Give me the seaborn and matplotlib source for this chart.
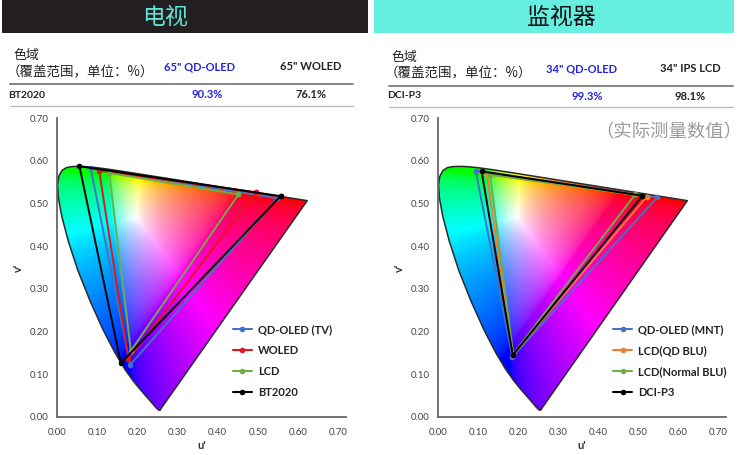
import matplotlib

matplotlib.use("Agg")
import matplotlib.pyplot as plt
import numpy as np
import pandas as pd
import seaborn as sns
from matplotlib.lines import Line2D
from matplotlib.patches import Polygon, Rectangle

# CIE 1931 2 deg spectral locus, chromaticity x / y, 380..700 nm
LOCUS_X = [0.1741, 0.1740, 0.1738, 0.1736, 0.1733, 0.1730, 0.1726, 0.1721, 0.1714,
           0.1703, 0.1689, 0.1669, 0.1644, 0.1611, 0.1566, 0.1510, 0.1440, 0.1355,
           0.1241, 0.1096, 0.0913, 0.0687, 0.0454, 0.0235, 0.0082, 0.0039, 0.0139,
           0.0389, 0.0743, 0.1142, 0.1547, 0.1929, 0.2296, 0.2658, 0.3016, 0.3373,
           0.3731, 0.4087, 0.4441, 0.4788, 0.5125, 0.5448, 0.5752, 0.6029, 0.6270,
           0.6482, 0.6658, 0.6801, 0.6915, 0.7006, 0.7079, 0.7140, 0.7190, 0.7230,
           0.7260, 0.7283, 0.7300, 0.7311, 0.7320, 0.7334, 0.7347]
LOCUS_Y = [0.0050, 0.0050, 0.0049, 0.0049, 0.0048, 0.0048, 0.0048, 0.0048, 0.0051,
           0.0058, 0.0069, 0.0086, 0.0109, 0.0138, 0.0177, 0.0227, 0.0297, 0.0399,
           0.0578, 0.0868, 0.1327, 0.2007, 0.2950, 0.4127, 0.5384, 0.6548, 0.7502,
           0.8120, 0.8338, 0.8262, 0.8059, 0.7816, 0.7543, 0.7243, 0.6923, 0.6589,
           0.6245, 0.5896, 0.5547, 0.5202, 0.4866, 0.4544, 0.4242, 0.3965, 0.3725,
           0.3514, 0.3340, 0.3197, 0.3083, 0.2993, 0.2920, 0.2859, 0.2809, 0.2770,
           0.2740, 0.2717, 0.2700, 0.2689, 0.2680, 0.2666, 0.2653]

# gamut primaries, u' / v' for R, G, B
TV_SERIES = ["QD-OLED (TV)", "WOLED", "LCD", "BT2020"]
TV_U = [[0.549, 0.084, 0.182], [0.496, 0.105, 0.178], [0.452, 0.130, 0.184], [0.557, 0.056, 0.159]]
TV_V = [[0.512, 0.582, 0.122], [0.526, 0.577, 0.135], [0.521, 0.571, 0.155], [0.517, 0.587, 0.126]]

MNT_SERIES = ["QD-OLED (MNT)", "LCD(QD BLU)", "LCD(Normal BLU)", "DCI-P3"]
MNT_U = [[0.548, 0.094, 0.186], [0.522, 0.122, 0.187], [0.493, 0.130, 0.188], [0.511, 0.109, 0.187]]
MNT_V = [[0.514, 0.577, 0.141], [0.516, 0.569, 0.145], [0.521, 0.567, 0.147], [0.518, 0.575, 0.145]]

# table texts
TV_COLS = ['65" QD-OLED', '65" WOLED']
TV_ROW = "BT2020"
TV_VALUES = ["90.3%", "76.1%"]
MNT_COLS = ['34" QD-OLED', '34" IPS LCD']
MNT_ROW = "DCI-P3"
MNT_VALUES = ["99.3%", "98.1%"]
SUBTITLE = "（覆盖范围，单位：%）"
NOTE = "（实际测量数值）"
TICKS = [0.0, 0.1, 0.2, 0.3, 0.4, 0.5, 0.6, 0.7]

TV_COLORS = ["#4472C4", "#E3161B", "#70AD47", "#000000"]
MNT_COLORS = ["#4472C4", "#ED7D31", "#70AD47", "#000000"]
BLUE_TEXT = "#2424E0"

W, H = 742, 455
CJK = ["Noto Sans CJK SC", "DejaVu Sans"]


def fx(px):
    return px / W


def fy(py):
    return 1 - py / H


def locus_uv():
    x = np.array(LOCUS_X)
    y = np.array(LOCUS_Y)
    d = -2 * x + 12 * y + 3
    return 4 * x / d, 9 * y / d


def gamut_image(n=500):
    uu, vv = np.meshgrid(np.linspace(0, 0.72, n), np.linspace(0, 0.72, n))
    d = 6 * uu - 16 * vv + 12
    x = 9 * uu / d
    y = np.maximum(4 * vv / d, 1e-4)
    xyz = np.stack([x / y, np.ones_like(x), (1 - x - y) / y], axis=-1)
    m = np.array([[3.2406, -1.5372, -0.4986],
                  [-0.9689, 1.8758, 0.0415],
                  [0.0557, -0.2040, 1.0570]])
    rgb = np.clip(xyz @ m.T, 0, None)
    rgb /= np.maximum(rgb.max(axis=-1, keepdims=True), 1e-9)
    rgb = np.where(rgb <= 0.0031308, 12.92 * rgb, 1.055 * rgb ** (1 / 2.4) - 0.055)
    return np.clip(rgb, 0, 1)


def draw_diagram(ax, series, us, vs, colors, legend_x):
    lu, lv = locus_uv()
    img = gamut_image()
    im = ax.imshow(img, origin="lower", extent=(0, 0.72, 0, 0.72), zorder=1,
                   interpolation="bilinear", aspect="auto")
    shape = Polygon(np.column_stack([lu, lv]), closed=True, transform=ax.transData,
                    facecolor="none", edgecolor="none")
    ax.add_patch(shape)
    im.set_clip_path(shape)
    ax.plot(np.append(lu, lu[0]), np.append(lv, lv[0]), color="#2b2b2b", lw=1.1, zorder=2)

    rows = []
    for name, u, v in zip(series, us, vs):
        for i in [0, 1, 2, 0]:
            rows.append({"series": name, "u": u[i], "v": v[i]})
    df = pd.DataFrame(rows)
    sns.lineplot(data=df, x="u", y="v", hue="series", hue_order=series, palette=colors,
                 sort=False, estimator=None, marker="o", markersize=4, markeredgewidth=0,
                 linewidth=1.4, legend=False, ax=ax, zorder=3)

    handles = [Line2D([], [], color=c, lw=1.5, marker="o", markersize=4, markeredgewidth=0)
               for c in colors]
    ax.legend(handles, series, loc="upper left", bbox_to_anchor=(legend_x, 0.31), frameon=False,
              borderpad=0, borderaxespad=0, handlelength=1.7, handletextpad=0.55,
              labelspacing=0.88, prop={"size": 8, "weight": "bold"}, labelcolor="#222222")

    ax.set_xlim(0, 0.72)
    ax.set_ylim(0, 0.70)
    ax.set_xticks(TICKS)
    ax.set_yticks(TICKS)
    ax.set_xticklabels([f"{t:.2f}" for t in TICKS])
    ax.set_yticklabels([f"{t:.2f}" for t in TICKS])
    ax.tick_params(length=0, labelsize=7, labelcolor="#444444")
    ax.tick_params(axis="x", pad=8)
    ax.tick_params(axis="y", pad=6)
    ax.set_xlabel("u'", fontsize=8, fontweight="bold", color="#333333", labelpad=2)
    ax.set_ylabel("v'", fontsize=8, fontweight="bold", color="#333333", labelpad=4)
    for side in ["top", "right"]:
        ax.spines[side].set_visible(False)
    for side in ["left", "bottom"]:
        ax.spines[side].set_color("#666666")
        ax.spines[side].set_linewidth(1.3)
    ax.grid(False)
    ax.set_facecolor("white")


def draw_table(fig, shift, lines_x, cols, col_x, row, values, val_x, ys):
    y_head, y_sub, y_col, y_line1, y_row, y_line2 = ys
    fig.text(fx(13 + shift), fy(y_head), "色域", fontsize=9.3, va="center", color="#222222",
             family=CJK)
    fig.text(fx(7 + shift), fy(y_sub), SUBTITLE, fontsize=9.7, va="center", color="#222222",
             family=["Noto Sans CJK SC", "Lato"])
    fig.text(fx(col_x[0]), fy(y_col), cols[0], fontsize=8, fontweight="bold", ha="center",
             va="center", color=BLUE_TEXT)
    fig.text(fx(col_x[1]), fy(y_col), cols[1], fontsize=8, fontweight="bold", ha="center",
             va="center", color="#222222")
    fig.add_artist(Line2D([fx(lines_x[0]), fx(lines_x[1])], [fy(y_line1)] * 2,
                          transform=fig.transFigure, color="#7a7a7a", lw=1.3))
    fig.text(fx(lines_x[0] - 2), fy(y_row), row, fontsize=7.5, fontweight="bold", va="center",
             color="#222222")
    fig.text(fx(val_x[0]), fy(y_row), values[0], fontsize=8, fontweight="bold", ha="center",
             va="center", color=BLUE_TEXT)
    fig.text(fx(val_x[1]), fy(y_row), values[1], fontsize=8, fontweight="bold", ha="center",
             va="center", color="#222222")
    fig.add_artist(Line2D([fx(lines_x[0]), fx(lines_x[1])], [fy(y_line2)] * 2,
                          transform=fig.transFigure, color="#bdbdbd", lw=1.0))


sns.set_theme(style="white")
plt.rcParams["font.family"] = ["Lato", "Noto Sans CJK SC", "DejaVu Sans"]

fig = plt.figure(figsize=(W / 100, H / 100), dpi=100)

# header bars
fig.add_artist(Rectangle((fx(2), fy(33)), fx(366), 33 / H, transform=fig.transFigure,
                         color="#231F20", lw=0))
fig.add_artist(Rectangle((fx(374), fy(33)), fx(360), 33 / H, transform=fig.transFigure,
                         color="#66EEE1", lw=0))
fig.text(fx(165), fy(17), "电视", fontsize=16.5, ha="center", va="center", color="#5FE6D8",
         family=CJK)
fig.text(fx(561), fy(17), "监视器", fontsize=16.5, ha="center", va="center", color="#111111",
         family=CJK)

draw_table(fig, 0, (10, 353), TV_COLS, (200, 311), TV_ROW, TV_VALUES, (207, 311),
           (56, 72, 67, 84, 95, 106))
draw_table(fig, 378, (389, 733), MNT_COLS, (581, 690), MNT_ROW, MNT_VALUES, (587, 690),
           (58, 73, 69, 86, 96, 107))

fig.text(fx(669), fy(132), NOTE, fontsize=13.2, ha="center", va="center", color="#9A9A9A",
         family=CJK)

ax_tv = fig.add_axes((fx(57), fy(417), (346 - 57) / W, (417 - 118) / H))
ax_mnt = fig.add_axes((fx(438), fy(417), (726 - 438) / W, (417 - 118) / H))

draw_diagram(ax_tv, TV_SERIES, TV_U, TV_V, TV_COLORS, 0.609)
draw_diagram(ax_mnt, MNT_SERIES, MNT_U, MNT_V, MNT_COLORS, 0.608)

fig.savefig("out.png", dpi=100)
